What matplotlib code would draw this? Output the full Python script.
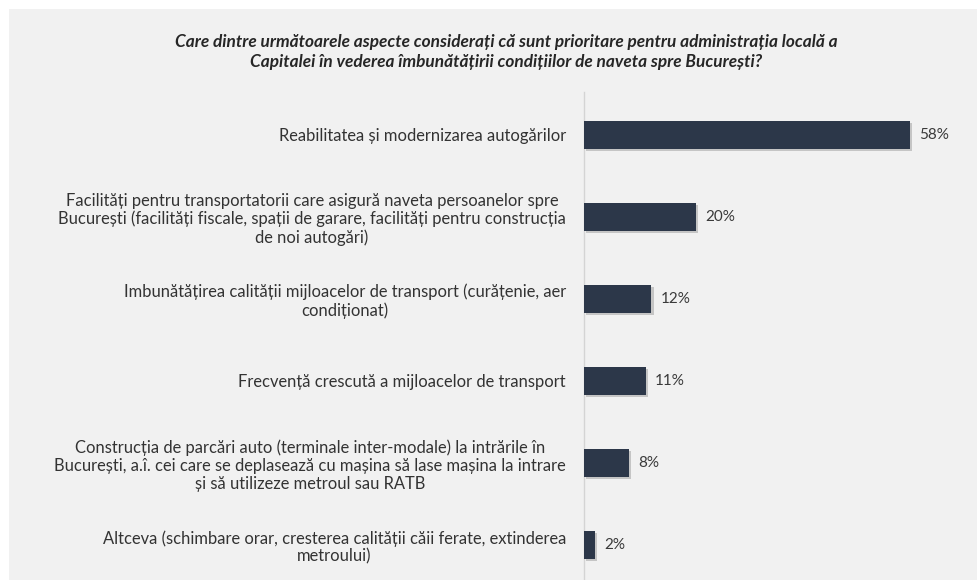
import matplotlib
matplotlib.use("Agg")
import matplotlib.pyplot as plt
from matplotlib.patches import Rectangle
import matplotlib.patheffects as pe

categories = [
    "Reabilitatea și modernizarea autogărilor",
    "Facilități pentru transportatorii care asigură naveta persoanelor spre\nBucurești (facilități fiscale, spații de garare, facilități pentru construcția\nde noi autogări)",
    "Imbunătățirea calității mijloacelor de transport (curățenie, aer\ncondiționat)",
    "Frecvență crescută a mijloacelor de transport",
    "Construcția de parcări auto (terminale inter-modale) la intrările în\nBucurești, a.î. cei care se deplasează cu mașina să lase mașina la intrare\nși să utilizeze metroul sau RATB",
    "Altceva (schimbare orar, cresterea calității căii ferate, extinderea\nmetroului)",
]
values = [58, 20, 12, 11, 8, 2]
value_labels = ["58%", "20%", "12%", "11%", "8%", "2%"]
title = ("Care dintre următoarele aspecte considerați că sunt prioritare pentru administrația locală a\n"
         "Capitalei în vederea îmbunătățirii condițiilor de naveta spre București?")

plt.rcParams['font.family'] = ['Lato', 'DejaVu Sans']

W, H = 978, 580
fig = plt.figure(figsize=(W / 100, H / 100), dpi=100)
fig.patch.set_facecolor('#f1f1f1')
# white strips at top and left
fig.add_artist(Rectangle((0, 1 - 9 / H), 1, 9 / H, transform=fig.transFigure,
                         facecolor='white', edgecolor='none', zorder=0))
fig.add_artist(Rectangle((0, 0), 9 / W, 1, transform=fig.transFigure,
                         facecolor='white', edgecolor='none', zorder=0))

ax_left = 584 / W
ax_top = 92 / H
ax = fig.add_axes([ax_left, 0, 1 - ax_left, 1 - ax_top])
ax.set_facecolor('none')

px_per_unit = 5.62
ax.set_xlim(0, (W - 584) / px_per_unit)
ax.set_ylim(5 + 35 / 82, -43 / 82)

ypos = list(range(len(values)))
bars = ax.barh(ypos, values, height=0.35, color='#2c3749', edgecolor='none', zorder=3)
for b in bars:
    b.set_path_effects([pe.SimplePatchShadow(offset=(1.5, -1.5), shadow_rgbFace='#9a9a9a', alpha=0.5),
                        pe.Normal()])

for y, v, lab in zip(ypos, values, value_labels):
    ax.annotate(lab, (v, y), xytext=(6.5, 0), textcoords='offset points',
                va='center', ha='left', fontsize=11, color='#3a3a3a')

ax.set_yticks(ypos)
ax.set_yticklabels(categories, fontsize=11.9, color='#333333', linespacing=1.14)
for lbl in ax.get_yticklabels():
    lbl.set_multialignment('center')
ax.tick_params(axis='y', length=0, pad=13)
ax.set_xticks([])

for s in ['top', 'right', 'bottom']:
    ax.spines[s].set_visible(False)
ax.spines['left'].set_color('#d4d4d4')
ax.spines['left'].set_linewidth(1)

fig.text(506 / W, 1 - 52 / H, title, ha='center', va='center', fontsize=12.4,
         fontweight='bold', fontstyle='italic', color='#262626', linespacing=1.28)

fig.savefig('out.png', dpi=100, facecolor=fig.get_facecolor())
